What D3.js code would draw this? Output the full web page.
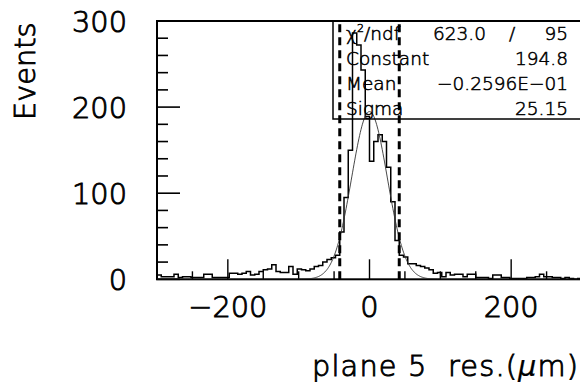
<!DOCTYPE html>
<html><head><meta charset="utf-8">
<script src="https://cdn.jsdelivr.net/npm/d3@7"></script>
<style>
html,body{margin:0;padding:0;background:#fff;}
svg{display:block;font-family:"DejaVu Sans",sans-serif;font-weight:300;}
text.big{stroke:#000;stroke-width:0.9px;}
text.small{stroke:#000;stroke-width:0.55px;}
</style></head><body>
<svg id="chart" width="580" height="382"></svg>
<script>
// Residual distribution for plane 5: 100 bins of 6 µm between -300 and 300
const binLow = -300, binHigh = 300, binWidth = 6;
const counts = [
  5,3,3,3,6,2,3,3,2,2,
  2,6,6,2,2,2,2,7,7,6,
  7,9,5,6,9,11,12,17,9,8,
  8,15,6,12,11,10,12,15,16,20,
  23,25,28,55,95,150,286,272,243,189,
  137,160,168,160,130,90,45,28,26,18,
  18,16,15,13,11,7,8,3,8,5,
  6,6,3,6,6,2,2,2,1,5,
  5,2,2,1,1,1,1,2,2,3,
  6,3,3,2,2,1,2,1,0,1
];
const yTicks = [0, 100, 200, 300];
const yMinorStep = 20;
const xTicks = [-200, 0, 200];
const xMinorStep = 50;
const cutLines = [-42, 42];

// Gaussian fit result
const fitConstant = 194.8, fitMean = -0.02596, fitSigma = 25.15;
const statLabels = ["Constant", "Mean", "Sigma"];
const statValues = ["194.8", "\u22120.2596E\u221201", "25.15"];
const chi2Text = "623.0", ndfText = "95";

const svg = d3.select("#chart");
const x = d3.scaleLinear().domain([binLow, binHigh]).range([157, 582]);
const y = d3.scaleLinear().domain([0, 300]).range([279.3, 21]);

const fmt = v => (v < 0 ? "\u2212" : "") + Math.abs(v);

// frame
svg.append("rect")
  .attr("x", x(binLow)).attr("y", y(300))
  .attr("width", x(binHigh) - x(binLow)).attr("height", y(0) - y(300))
  .attr("fill", "none").attr("stroke", "#000").attr("stroke-width", 2);

// y ticks (minor + major), drawn inward from the left axis
const yMinor = d3.range(0, 300 + 1e-9, yMinorStep);
svg.append("g").selectAll("line").data(yMinor).join("line")
  .attr("x1", x(binLow)).attr("x2", d => x(binLow) + (d % 100 === 0 ? 23 : 11))
  .attr("y1", d => y(d)).attr("y2", d => y(d))
  .attr("stroke", "#000").attr("stroke-width", 1.6);

// x ticks, drawn upward from the bottom axis
const xMinor = d3.range(binLow, binHigh + 1e-9, xMinorStep);
svg.append("g").selectAll("line").data(xMinor).join("line")
  .attr("x1", d => x(d)).attr("x2", d => x(d))
  .attr("y1", y(0)).attr("y2", d => y(0) - (d % 200 === 0 ? 20 : 8))
  .attr("stroke", "#000").attr("stroke-width", 1.4);

// tick labels
svg.append("g").selectAll("text").data(yTicks).join("text")
  .attr("class", "big")
  .attr("x", 127).attr("y", d => y(d) + 10.5)
  .attr("text-anchor", "end").attr("font-size", 28.8)
  .text(d => fmt(d));
svg.append("g").selectAll("text").data(xTicks).join("text")
  .attr("class", "big")
  .attr("x", d => x(d)).attr("y", y(0) + 38)
  .attr("text-anchor", "middle").attr("font-size", 28.8)
  .text(d => fmt(d));

// axis titles
svg.append("text").attr("class", "big")
  .attr("transform", "translate(35,120) rotate(-90)")
  .attr("font-size", 28.8).text("Events");
const xt = svg.append("text").attr("class", "big")
  .attr("x", 312).attr("y", 376)
  .attr("font-size", 28.8).style("white-space", "pre")
  .attr("textLength", 266).attr("lengthAdjust", "spacing");
xt.append("tspan").text("plane 5  res.(");
xt.append("tspan").attr("font-style", "italic").style("stroke-width", "0.2px").text("\u03bc");
xt.append("tspan").text("m)");

// plot area clip
svg.append("clipPath").attr("id", "plot")
  .append("rect").attr("x", x(binLow)).attr("y", y(300))
  .attr("width", x(binHigh) - x(binLow)).attr("height", y(0) - y(300));
const plot = svg.append("g").attr("clip-path", "url(#plot)");

// histogram as a step outline
const pts = [[binLow, 0]];
counts.forEach((c, i) => {
  const lo = binLow + i * binWidth;
  pts.push([lo, c], [lo + binWidth, c]);
});
pts.push([binHigh, 0]);
plot.append("path")
  .attr("d", d3.line().x(d => x(d[0])).y(d => y(d[1]))(pts))
  .attr("fill", "none").attr("stroke", "#000").attr("stroke-width", 1.5);

// Gaussian fit curve
const gauss = v => fitConstant * Math.exp(-0.5 * Math.pow((v - fitMean) / fitSigma, 2));
const fitPts = d3.range(binLow, binHigh + 0.5, 1).map(v => [v, gauss(v)]);
plot.append("path")
  .attr("d", d3.line().x(d => x(d[0])).y(d => y(d[1]))(fitPts))
  .attr("fill", "none").attr("stroke", "#333").attr("stroke-width", 0.9);

// cut lines
plot.append("g").selectAll("line").data(cutLines).join("line")
  .attr("x1", d => x(d)).attr("x2", d => x(d))
  .attr("y1", y(0)).attr("y2", y(300))
  .attr("stroke", "#000").attr("stroke-width", 3)
  .attr("stroke-dasharray", "8,5");

// statistics box
const box = svg.append("g");
box.append("rect").attr("x", 333).attr("y", 21).attr("width", 260).attr("height", 98)
  .attr("fill", "none").attr("stroke", "#000").attr("stroke-width", 1.5);
const rowY = [40, 65, 90, 115];
const fs = 18.5;
const chiLabel = box.append("text").attr("class", "small")
  .attr("x", 346).attr("y", rowY[0]).attr("font-size", fs);
chiLabel.append("tspan").text("\u03c7");
chiLabel.append("tspan").attr("font-size", 11).attr("dy", -8).text("2");
chiLabel.append("tspan").attr("dy", 8).text("/ndf");
box.append("text").attr("class", "small")
  .attr("x", 433).attr("y", rowY[0]).attr("font-size", fs).text(chi2Text);
box.append("text").attr("class", "small")
  .attr("x", 512).attr("y", rowY[0]).attr("font-size", fs)
  .attr("text-anchor", "middle").text("/");
box.append("text").attr("class", "small")
  .attr("x", 568).attr("y", rowY[0]).attr("font-size", fs)
  .attr("text-anchor", "end").text(ndfText);
statLabels.forEach((lab, i) => {
  box.append("text").attr("class", "small")
    .attr("x", 346).attr("y", rowY[i + 1]).attr("font-size", fs).text(lab);
  box.append("text").attr("class", "small")
    .attr("x", 568).attr("y", rowY[i + 1]).attr("font-size", fs)
    .attr("text-anchor", "end").text(statValues[i]);
});
</script>
</body></html>
